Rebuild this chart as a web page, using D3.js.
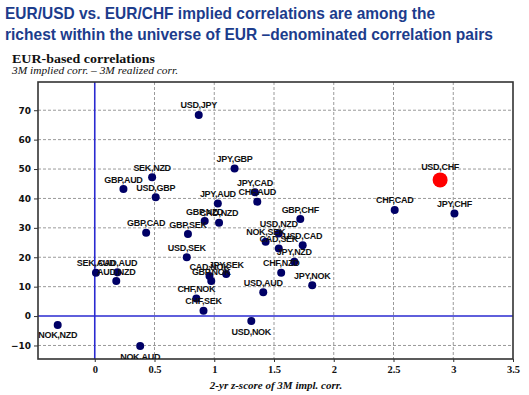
<!DOCTYPE html>
<html><head><meta charset="utf-8">
<script src="https://cdn.jsdelivr.net/npm/d3@7"></script>
<style>html,body{margin:0;padding:0;background:#fff;}svg{display:block;}</style>
</head><body>
<script>
// ---- data ----
const pairs = ["USD,JPY","JPY,GBP","SEK,NZD","GBP,AUD","USD,GBP","JPY,AUD","JPY,CAD","CHF,AUD","GBP,NZD","CAD,NZD","GBP,SEK","GBP,CAD","USD,SEK","SEK,AUD","CAD,AUD","AUD,NZD","CAD,NOK","GBP,NOK","JPY,SEK","CHF,NOK","CHF,SEK","USD,AUD","USD,NOK","NOK,NZD","NOK,AUD","CHF,CAD","JPY,CHF","USD,CHF","GBP,CHF","USD,NZD","USD,CAD","JPY,NZD","CHF,NZD","JPY,NOK","NOK,SEK","CAD,SEK"];
const zScore = [0.87,1.17,0.48,0.24,0.51,1.03,1.34,1.36,0.92,1.04,0.78,0.43,0.77,0.01,0.19,0.18,0.96,0.975,1.10,0.85,0.91,1.41,1.31,-0.31,0.38,2.51,3.01,2.89,1.72,1.54,1.74,1.67,1.56,1.82,1.43,1.54];
const spread = [68.4,50.2,47.2,43.2,40.4,38.3,42.1,38.9,32.3,31.7,27.9,28.3,20.0,14.7,14.9,11.9,13.6,11.9,14.3,6.0,1.8,8.1,-1.7,-3.0,-10.2,36.1,34.9,46.3,33.0,28.1,24.1,18.5,14.7,10.5,25.3,23.0];
const labelBelow = ["NOK,NZD","USD,NOK","NOK,AUD"];
const highlight = "USD,CHF";
const xTicks = [0,0.5,1,1.5,2,2.5,3,3.5];
const yTicks = [-10,0,10,20,30,40,50,60,70];
const titleLines = ["EUR/USD vs. EUR/CHF implied correlations are among the","richest within the universe of EUR \u2013denominated correlation pairs"];
const subTitle = "EUR-based correlations";
const subSubTitle = "3M implied corr. \u2013 3M realized corr.";
const xTitle = "2-yr z-score of 3M impl. corr.";

const W = 529, H = 395;
const svg = d3.select("body").append("svg").attr("width", W).attr("height", H);

// titles
const tl = [{t: titleLines[0], y: 18.5, w: 430}, {t: titleLines[1], y: 40, w: 488}];
svg.selectAll("text.title").data(tl).enter().append("text")
  .attr("class","title").attr("x", 5).attr("y", d => d.y)
  .attr("textLength", d => d.w).attr("lengthAdjust","spacingAndGlyphs")
  .style("font-family","'Liberation Sans Narrow','Arial Narrow','Liberation Sans',Arial,sans-serif")
  .style("font-weight","bold").style("font-size","16.5px").style("fill","#1c3c8c")
  .text(d => d.t);

svg.append("text").attr("x", 12).attr("y", 63).attr("textLength", 143).attr("lengthAdjust","spacingAndGlyphs")
  .style("font-family","'Liberation Serif','Times New Roman',serif").style("font-weight","bold")
  .style("font-size","13.5px").style("fill","#111").text(subTitle);
svg.append("text").attr("x", 12).attr("y", 74).attr("textLength", 166).attr("lengthAdjust","spacingAndGlyphs")
  .style("font-family","'Liberation Serif','Times New Roman',serif").style("font-style","italic")
  .style("font-size","10.5px").style("fill","#111").text(subSubTitle);

// scales
const L = 38, R = 513, T = 82, B = 359;
const x = d3.scaleLinear().domain([-0.475, 3.5]).range([L, R]);
const y = d3.scaleLinear().domain([-14.6, 79.6]).range([B, T]);

// grid
const g = svg.append("g");
g.selectAll("line.hg").data(yTicks.filter(v => v !== 0)).enter().append("line")
  .attr("x1", L).attr("x2", R).attr("y1", d => y(d)).attr("y2", d => y(d))
  .attr("stroke","#9a9a9a").attr("stroke-width",1).attr("stroke-dasharray","3,2");
g.selectAll("line.vg").data(xTicks.filter(v => v !== 0 && v !== 3.5)).enter().append("line")
  .attr("y1", T).attr("y2", B).attr("x1", d => x(d)).attr("x2", d => x(d))
  .attr("stroke","#9a9a9a").attr("stroke-width",1).attr("stroke-dasharray","3,2");

// zero lines
g.append("line").attr("x1", L).attr("x2", R).attr("y1", y(0)).attr("y2", y(0))
  .attr("stroke","#2a2ad0").attr("stroke-width",1.6);
g.append("line").attr("y1", T).attr("y2", B).attr("x1", x(0)).attr("x2", x(0))
  .attr("stroke","#2a2ad0").attr("stroke-width",1.6);

// axes
const yAxis = d3.axisLeft(y).tickValues(yTicks).tickSize(4).tickSizeOuter(0).tickPadding(3);
const ya = svg.append("g").attr("transform", `translate(${L},0)`).call(yAxis);
ya.select(".domain").remove();
ya.selectAll("line").attr("stroke","#333");
ya.selectAll("text").style("font-family","'DejaVu Sans','Liberation Sans',sans-serif")
  .style("font-weight","bold").style("font-size","9px").style("fill","#111");

const xAxis = d3.axisBottom(x).tickValues(xTicks).tickSize(3).tickSizeOuter(0).tickPadding(4).tickFormat(d3.format("~g"));
const xa = svg.append("g").attr("transform", `translate(0,${B})`).call(xAxis);
xa.select(".domain").remove();
xa.selectAll("line").attr("stroke","#333");
xa.selectAll("text").style("font-family","'Liberation Serif','Times New Roman',serif")
  .style("font-weight","bold").style("font-size","10.5px").style("fill","#111");

svg.append("text").attr("x", 276).attr("y", 389).attr("text-anchor","middle")
  .style("font-family","'Liberation Serif','Times New Roman',serif").style("font-style","italic")
  .style("font-weight","bold").style("font-size","11px").style("fill","#111").text(xTitle);

// frame
svg.append("rect").attr("x", L).attr("y", T).attr("width", R - L).attr("height", B - T)
  .attr("fill","none").attr("stroke","#333").attr("stroke-width",1.6);

// clip
svg.append("clipPath").attr("id","pc").append("rect").attr("x", L).attr("y", T).attr("width", R - L).attr("height", B - T);

const data = pairs.map((p, i) => ({p, zx: zScore[i], zy: spread[i]}));
const pts = svg.append("g").attr("clip-path","url(#pc)");
pts.selectAll("circle").data(data).enter().append("circle")
  .attr("cx", d => x(d.zx)).attr("cy", d => y(d.zy))
  .attr("r", d => d.p === highlight ? 7.5 : 4)
  .attr("fill", d => d.p === highlight ? "#ff0000" : "#000066");
pts.selectAll("text").data(data).enter().append("text")
  .attr("x", d => x(d.zx))
  .attr("y", d => labelBelow.includes(d.p) ? y(d.zy) + 13.5 : y(d.zy) - (d.p === highlight ? 9.5 : 6.5))
  .attr("text-anchor","middle")
  .style("font-family","'Liberation Sans',Arial,sans-serif").style("font-weight","bold")
  .style("font-size","9px").style("fill","#111").style("letter-spacing","-0.3px")
  .text(d => d.p);
</script>
</body></html>
